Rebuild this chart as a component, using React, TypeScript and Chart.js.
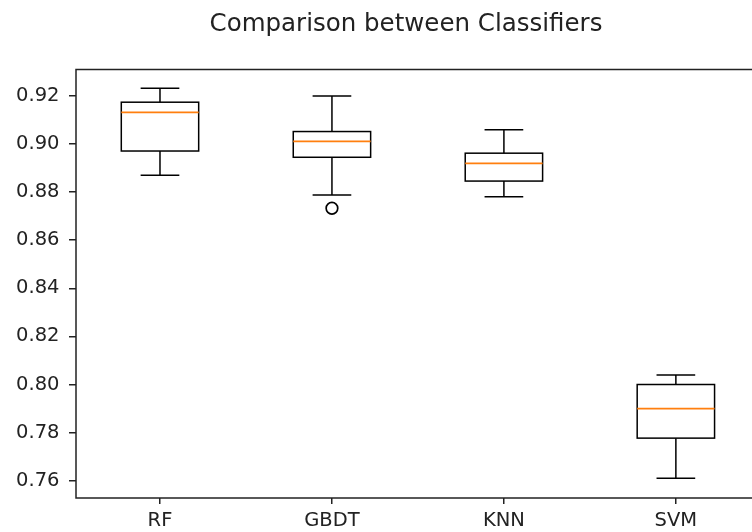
import React, { useEffect, useRef } from "react";
import { Chart, registerables } from "chart.js";

Chart.register(...registerables);

const title = "Comparison between Classifiers";
const categories = ["RF", "GBDT", "KNN", "SVM"];
const whiskerLow = [0.887, 0.8788, 0.8781, 0.761];
const q1 = [0.8971, 0.8945, 0.8846, 0.7777];
const medians = [0.9132, 0.9011, 0.892, 0.79];
const q3 = [0.9174, 0.9052, 0.8962, 0.8];
const whiskerHigh = [0.9232, 0.92, 0.9059, 0.804];
const outlierCategory = ["GBDT"];
const outlierValues = [0.8733];
const yTicks = [0.76, 0.78, 0.8, 0.82, 0.84, 0.86, 0.88, 0.9, 0.92];

const BOX_WIDTH = 0.45;
const FONT = "'DejaVu Sans', sans-serif";
const LINE = 1.5;

const boxPlugin = {
  id: "boxes",
  beforeDatasetsDraw(chart: any) {
    const { ctx } = chart;
    const x = chart.scales.x;
    const y = chart.scales.y;
    ctx.save();
    ctx.lineWidth = LINE;
    categories.forEach((_c, i) => {
      const pos = i + 1;
      const cx = x.getPixelForValue(pos);
      const hw = x.getPixelForValue(pos + BOX_WIDTH / 2) - cx;
      const cw = hw / 2;
      const yl = y.getPixelForValue(whiskerLow[i]);
      const yq1 = y.getPixelForValue(q1[i]);
      const ym = y.getPixelForValue(medians[i]);
      const yq3 = y.getPixelForValue(q3[i]);
      const yh = y.getPixelForValue(whiskerHigh[i]);
      ctx.strokeStyle = "#000";
      ctx.beginPath();
      ctx.moveTo(cx, yq1);
      ctx.lineTo(cx, yl);
      ctx.moveTo(cx, yq3);
      ctx.lineTo(cx, yh);
      ctx.moveTo(cx - cw, yl);
      ctx.lineTo(cx + cw, yl);
      ctx.moveTo(cx - cw, yh);
      ctx.lineTo(cx + cw, yh);
      ctx.stroke();
      ctx.strokeRect(cx - hw, yq3, 2 * hw, yq1 - yq3);
      ctx.strokeStyle = "#ff7f0e";
      ctx.lineWidth = 1.7;
      ctx.beginPath();
      ctx.moveTo(cx - hw, ym);
      ctx.lineTo(cx + hw, ym);
      ctx.stroke();
      ctx.lineWidth = LINE;
    });
    ctx.restore();
  },
  afterDraw(chart: any) {
    const { ctx, chartArea } = chart;
    ctx.save();
    ctx.strokeStyle = "#222";
    ctx.lineWidth = LINE;
    ctx.strokeRect(
      chartArea.left,
      chartArea.top,
      chartArea.right - chartArea.left,
      chartArea.bottom - chartArea.top
    );
    ctx.restore();
  },
};

export default function App() {
  const ref = useRef<HTMLCanvasElement | null>(null);
  useEffect(() => {
    if (!ref.current) return;
    const outliers = outlierCategory.map((c, i) => ({
      x: categories.indexOf(c) + 1,
      y: outlierValues[i],
    }));
    const chart = new Chart(ref.current, {
      type: "scatter",
      data: {
        datasets: [
          {
            data: outliers,
            pointStyle: "circle",
            pointRadius: 5.8,
            pointBorderWidth: 1.7,
            pointBorderColor: "#000",
            pointBackgroundColor: "rgba(0,0,0,0)",
          },
        ],
      },
      options: {
        responsive: false,
        maintainAspectRatio: false,
        animation: false,
        layout: { padding: { left: 0, right: 0, top: 0, bottom: 0 } },
        plugins: {
          legend: { display: false },
          tooltip: { enabled: false },
          title: {
            display: true,
            text: title,
            color: "#222",
            font: { family: FONT, size: 24.5, weight: "normal" },
            padding: { top: 9.8, bottom: 30.3 },
          },
        },
        scales: {
          x: {
            type: "linear",
            min: 0.5116,
            max: 4.748,
            afterFit(scale: any) {
              scale.height = 34;
            },
            afterBuildTicks(scale: any) {
              scale.ticks = categories.map((_c, i) => ({ value: i + 1 }));
            },
            border: { display: false },
            grid: {
              drawOnChartArea: false,
              drawTicks: true,
              tickLength: 6,
              color: "#222",
              lineWidth: LINE,
            },
            ticks: {
              color: "#222",
              font: { family: FONT, size: 19.5 },
              padding: 5,
              maxRotation: 0,
              autoSkip: false,
              callback: (v: any) => categories[Math.round(v) - 1] ?? "",
            },
          },
          y: {
            type: "linear",
            min: 0.7528,
            max: 0.931,
            afterFit(scale: any) {
              scale.width = 76;
            },
            afterBuildTicks(scale: any) {
              scale.ticks = yTicks.map((v) => ({ value: v }));
            },
            border: { display: false },
            grid: {
              drawOnChartArea: false,
              drawTicks: true,
              tickLength: 7,
              color: "#222",
              lineWidth: LINE,
            },
            ticks: {
              color: "#222",
              font: { family: FONT, size: 19.5 },
              padding: 9.5,
              autoSkip: false,
              callback: (v: any) => Number(v).toFixed(2),
            },
          },
        },
      },
      plugins: [boxPlugin],
    });
    return () => chart.destroy();
  }, []);
  return (
    <div
      style={{
        position: "absolute",
        left: 0,
        top: 0,
        width: 752,
        height: 532,
        overflow: "hidden",
        background: "#fff",
      }}
    >
      <canvas ref={ref} width={812} height={532} style={{ width: 812, height: 532 }} />
    </div>
  );
}
